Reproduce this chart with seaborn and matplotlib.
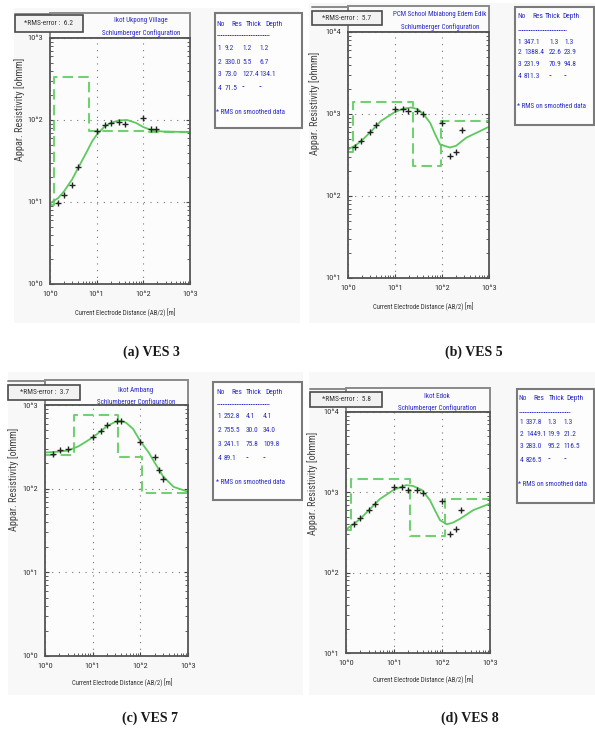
import numpy as np
import matplotlib
matplotlib.use("Agg")
import matplotlib.pyplot as plt
import seaborn as sns
from matplotlib.patches import Rectangle
from matplotlib.ticker import LogLocator, NullFormatter
from matplotlib import font_manager as fm

# ---------------- data ----------------
# VES 3
a_title = ["Ikot Ukpong Village", "Schlumberger Configuration"]
a_rms = "6.2"
a_res = [9.2, 330.0, 73.0, 71.5]
a_thick = [1.2, 5.5, 127.4]
a_depth = [1.2, 6.7, 134.1]
a_obs_ab2 = [1.5, 2.0, 3.0, 4.0, 10, 15, 20, 30, 40, 100, 145, 190]
a_obs_rho = [9.8, 12.3, 16, 27, 73, 88, 91, 95, 90, 105, 78, 77]
a_fit_ab2 = [1, 1.5, 2, 3, 4, 6, 8, 10, 15, 20, 30, 45, 70, 100, 150, 250, 500, 1000]
a_fit_rho = [9.6, 11.2, 13.5, 19, 26, 40, 55, 66, 84, 92, 99, 100, 92, 82, 75, 72.5, 71.8, 71.5]

# VES 5
b_title = ["PCM School Mbiabong Edem Edik", "Schlumberger Configuration"]
b_rms = "5.7"
b_res = [347.1, 1388.4, 231.9, 811.3]
b_thick = [1.3, 22.6, 70.9]
b_depth = [1.3, 23.9, 94.8]
b_obs_ab2 = [1.4, 1.9, 2.9, 4.0, 10, 15, 19, 29, 40, 100, 150, 195, 260]
b_obs_rho = [400, 470, 600, 730, 1140, 1140, 1090, 1090, 1000, 780, 310, 340, 640]
b_fit_ab2 = [1, 1.5, 2, 3.16, 5, 10, 15, 22, 30, 40, 56, 71, 91, 148, 200, 330, 650, 1000]
b_fit_rho = [370, 420, 480, 620, 820, 1060, 1160, 1200, 1150, 1000, 780, 570, 425, 390, 410, 515, 620, 700]

# VES 7
c_title = ["Ikot Ambang", "Schlumberger Configuration"]
c_rms = "3.7"
c_res = [252.8, 755.5, 241.1, 89.1]
c_thick = [4.1, 30.0, 75.8]
c_depth = [4.1, 34.0, 109.8]
c_obs_ab2 = [1.5, 2.1, 3.1, 10, 15, 20, 32, 40, 98, 200, 250, 300]
c_obs_rho = [263, 289, 302, 417, 488, 576, 650, 645, 363, 236, 166, 129]
c_fit_ab2 = [1, 2, 3, 5, 7, 10, 15, 20, 30, 40, 50, 70, 100, 150, 200, 300, 500, 1000]
c_fit_rho = [270, 278, 285, 320, 360, 410, 490, 560, 630, 640, 615, 520, 370, 270, 205, 140, 105, 92]

# VES 8
d_title = ["Ikot Edok", "Schlumberger Configuration"]
d_rms = "5.8"
d_res = [337.8, 1449.1, 283.0, 826.5]
d_thick = [1.3, 19.9, 95.2]
d_depth = [1.3, 21.2, 116.5]
d_obs_ab2 = [1.5, 1.95, 3.0, 4.0, 10, 15, 20, 30, 40, 98, 150, 195, 250]
d_obs_rho = [400, 480, 610, 720, 1150, 1150, 1080, 1060, 980, 790, 305, 345, 600]
d_fit_ab2 = [1, 1.5, 2, 3.16, 5, 10, 18, 25, 38, 56, 71, 91, 126, 170, 240, 447, 1000]
d_fit_rho = [345, 410, 470, 620, 820, 1080, 1230, 1200, 1070, 800, 600, 450, 400, 420, 470, 600, 725]

captions = ["(a) VES 3", "(b) VES 5", "(c) VES 7", "(d) VES 8"]
table_header = ["No", "Res", "Thick", "Depth"]
note_text = "* RMS on smoothed data"
xlabel_text = "Current Electrode Distance (AB/2) [m]"
ylabel_text = "Appar. Resistivity [ohmm]"

# ---------------- style ----------------
sns.set_theme(style="white")
names = {f.name for f in fm.fontManager.ttflist}
NARROW = "DejaVu Sans"
for cand in ["Liberation Sans Narrow", "Roboto Condensed", "Open Sans Condensed",
             "Liberation Sans", "Roboto"]:
    if cand in names:
        NARROW = cand
        break
plt.rcParams["font.family"] = [NARROW, "DejaVu Sans"]

W, H = 595, 733
fig = plt.figure(figsize=(W / 100, H / 100), dpi=100)
bg = fig.add_axes([0, 0, 1, 1], zorder=0)
bg.set_xlim(0, W)
bg.set_ylim(H, 0)
bg.axis("off")

GREEN_FIT = "#5ec95e"
GREEN_MOD = "#72d072"
BLUE = "#2a2ac8"
FRAME = "#8a8a8a"
TAB_FS = 5.3


def px_axes(x0, y0, x1, y1):
    return fig.add_axes([x0 / W, 1 - y1 / H, (x1 - x0) / W, (y1 - y0) / H], zorder=2)


panels = [
    dict(title=a_title, rms=a_rms, res=a_res, thick=a_thick, depth=a_depth,
         oa=a_obs_ab2, orho=a_obs_rho, fa=a_fit_ab2, frho=a_fit_rho,
         axbox=(50, 38, 190, 284), ydec=(0, 3), top=13, rms_box=(15, 15, 83, 32),
         tx=141, ty=(21, 33), table=(215, 13, 302, 128), hdr_y=24, ul_y=35,
         rows_y=[49, 62, 75, 88], note_y=113, hdr_x=(216, 231, 246, 265),
         col_x=(217.5, 225, 242, 259), ylab=(20, 109), xlab=(125, 313),
         cap=(151, 352), bgr=(14, 8, 300, 323)),
    dict(title=b_title, rms=b_rms, res=b_res, thick=b_thick, depth=b_depth,
         oa=b_obs_ab2, orho=b_obs_rho, fa=b_fit_ab2, frho=b_fit_rho,
         axbox=(348, 32, 489, 278), ydec=(1, 4), top=6, rms_box=(312, 11, 382, 25),
         tx=440, ty=(15, 27), table=(515, 7, 594, 125), hdr_y=16, ul_y=30,
         rows_y=[42, 53, 65, 77], note_y=106, hdr_x=(517, 532, 545, 562),
         col_x=(517.5, 524, 549, 564), ylab=(315, 103), xlab=(423, 307),
         cap=(474, 352), bgr=(309, 3, 595, 323)),
    dict(title=c_title, rms=c_rms, res=c_res, thick=c_thick, depth=c_depth,
         oa=c_obs_ab2, orho=c_obs_rho, fa=c_fit_ab2, frho=c_fit_rho,
         axbox=(45, 405, 188, 656), ydec=(0, 3), top=380, rms_box=(8, 385, 80, 400),
         tx=136, ty=(390, 402), table=(213, 382, 302, 500), hdr_y=392, ul_y=404,
         rows_y=[416, 430, 445, 459], note_y=483, hdr_x=(216, 231, 246, 265),
         col_x=(217.5, 224, 246, 263), ylab=(14, 479), xlab=(122, 683),
         cap=(150, 718), bgr=(8, 372, 303, 695)),
    dict(title=d_title, rms=d_rms, res=d_res, thick=d_thick, depth=d_depth,
         oa=d_obs_ab2, orho=d_obs_rho, fa=d_fit_ab2, frho=d_fit_rho,
         axbox=(346, 412, 490, 653), ydec=(1, 4), top=388, rms_box=(310, 392, 382, 407),
         tx=437, ty=(396, 408), table=(517, 389, 594, 503), hdr_y=398, ul_y=412,
         rows_y=[423, 435, 447, 460], note_y=485, hdr_x=(518, 533, 549, 566),
         col_x=(519.5, 526, 547.5, 563.5), ylab=(313, 483), xlab=(423, 680),
         cap=(470, 718), bgr=(309, 372, 595, 695)),
]

for p, cap in zip(panels, captions):
    x0, y0, x1, y1 = p["axbox"]
    # panel background tint
    bx0, by0, bx1, by1 = p["bgr"]
    bg.add_patch(Rectangle((bx0, by0), bx1 - bx0, by1 - by0, facecolor="#f8f8f8",
                           edgecolor="none", zorder=0))
    # frame: top line + title box
    top = p["top"]
    r0, r1, r2, r3 = p["rms_box"]
    bg.add_patch(Rectangle((x0, top), x1 - x0, y0 - top, facecolor="#fbfbfb",
                           edgecolor=FRAME, lw=1.4, zorder=1))
    bg.plot([r0, x0], [top + 1, top + 1], color=FRAME, lw=1.4, zorder=1)
    bg.add_patch(Rectangle((r0, r1), r2 - r0, r3 - r1, facecolor="#f2f2f2",
                           edgecolor="#4a4a4a", lw=1.2, zorder=3))
    bg.text((r0 + r2) / 2, (r1 + r3) / 2, "*RMS-error :  " + p["rms"], ha="center",
            va="center", fontsize=5.3, color="#333333", zorder=4)
    for line, ty in zip(p["title"], p["ty"]):
        bg.text(p["tx"], ty, line, ha="center", va="center", fontsize=5.0,
                color=BLUE, zorder=4)
    # table box
    t0, t1, t2, t3 = p["table"]
    bg.add_patch(Rectangle((t0, t1), t2 - t0, t3 - t1, facecolor="#fdfdfd",
                           edgecolor="#7a7a7a", lw=1.5, zorder=1))
    for hx, h in zip(p["hdr_x"], table_header):
        bg.text(hx, p["hdr_y"], h, ha="left", va="center", fontsize=TAB_FS, color=BLUE, zorder=4)
    bg.plot([p["hdr_x"][0] + 1, p["hdr_x"][3] + 4], [p["ul_y"], p["ul_y"]],
            color=BLUE, lw=0.7, ls=(0, (1.2, 0.6)), zorder=4)
    thick_s = [f"{v:.1f}" for v in p["thick"]] + ["--"]
    depth_s = [f"{v:.1f}" for v in p["depth"]] + ["--"]
    for i, ry in enumerate(p["rows_y"]):
        vals = [str(i + 1), f"{p['res'][i]:.1f}", thick_s[i], depth_s[i]]
        for cx, v in zip(p["col_x"], vals):
            bg.text(cx, ry, v, ha="left", va="center", fontsize=TAB_FS, color=BLUE, zorder=4)
    bg.text(p["hdr_x"][0], p["note_y"], note_text, ha="left", va="center",
            fontsize=5.0, color=BLUE, zorder=4)
    # axis labels and caption
    bg.text(p["ylab"][0], p["ylab"][1], ylabel_text, rotation=90, ha="center",
            va="center", fontsize=7.4, color="#444444", zorder=4)
    bg.text(p["xlab"][0], p["xlab"][1], xlabel_text, ha="center", va="center",
            fontsize=4.9, color="#333333", zorder=4)
    bg.text(p["cap"][0], p["cap"][1], cap, ha="center", va="center",
            fontsize=10, color="#1a1a1a", weight="bold",
            family=["Liberation Serif", "DejaVu Serif"], zorder=4)

    # ---- plot axes ----
    ax = px_axes(x0, y0, x1, y1)
    ax.set_facecolor("#fcfcfc")
    ax.set_xscale("log")
    ax.set_yscale("log")
    lo, hi = p["ydec"]
    mx = [1] + list(p["depth"]) + [1000]
    my = list(p["res"]) + [p["res"][-1]]
    sns.lineplot(x=mx, y=my, ax=ax, drawstyle="steps-post", color=GREEN_MOD,
                 linestyle=(0, (5, 2.5)), linewidth=1.5, estimator=None, sort=False)
    sns.lineplot(x=p["fa"], y=p["frho"], ax=ax, color=GREEN_FIT, linewidth=1.3,
                 estimator=None, sort=False)
    sns.scatterplot(x=p["oa"], y=p["orho"], ax=ax, marker="+", s=22, color="#222222",
                    linewidth=1.0, zorder=5)
    ax.set_xlim(1, 1000)
    ax.set_ylim(10 ** lo, 10 ** hi)
    xt = [1, 10, 100, 1000]
    ax.set_xticks(xt)
    ax.set_xticklabels([f"10^{k}" for k in range(4)])
    yt = [10 ** k for k in range(lo, hi + 1)]
    ax.set_yticks(yt)
    ax.set_yticklabels([f"10^{k}" for k in range(lo, hi + 1)])
    for axis in (ax.xaxis, ax.yaxis):
        axis.set_minor_locator(LogLocator(base=10, subs=np.arange(2, 10)))
        axis.set_minor_formatter(NullFormatter())
    ax.tick_params(which="both", direction="in", bottom=True, left=True, right=True,
                   top=False, color="#444444", labelsize=6.0, labelcolor="#333333", pad=5)
    ax.tick_params(which="major", length=3, width=0.8)
    ax.tick_params(which="minor", length=2, width=0.6)
    ax.grid(True, which="major", linestyle=(0, (1, 5)), color="#777777", linewidth=0.8)
    ax.grid(False, which="minor")
    for sp in ax.spines.values():
        sp.set_color("#555555")
        sp.set_linewidth(1.3)
    ax.set_xlabel("")
    ax.set_ylabel("")

fig.savefig("out.png", dpi=100)
